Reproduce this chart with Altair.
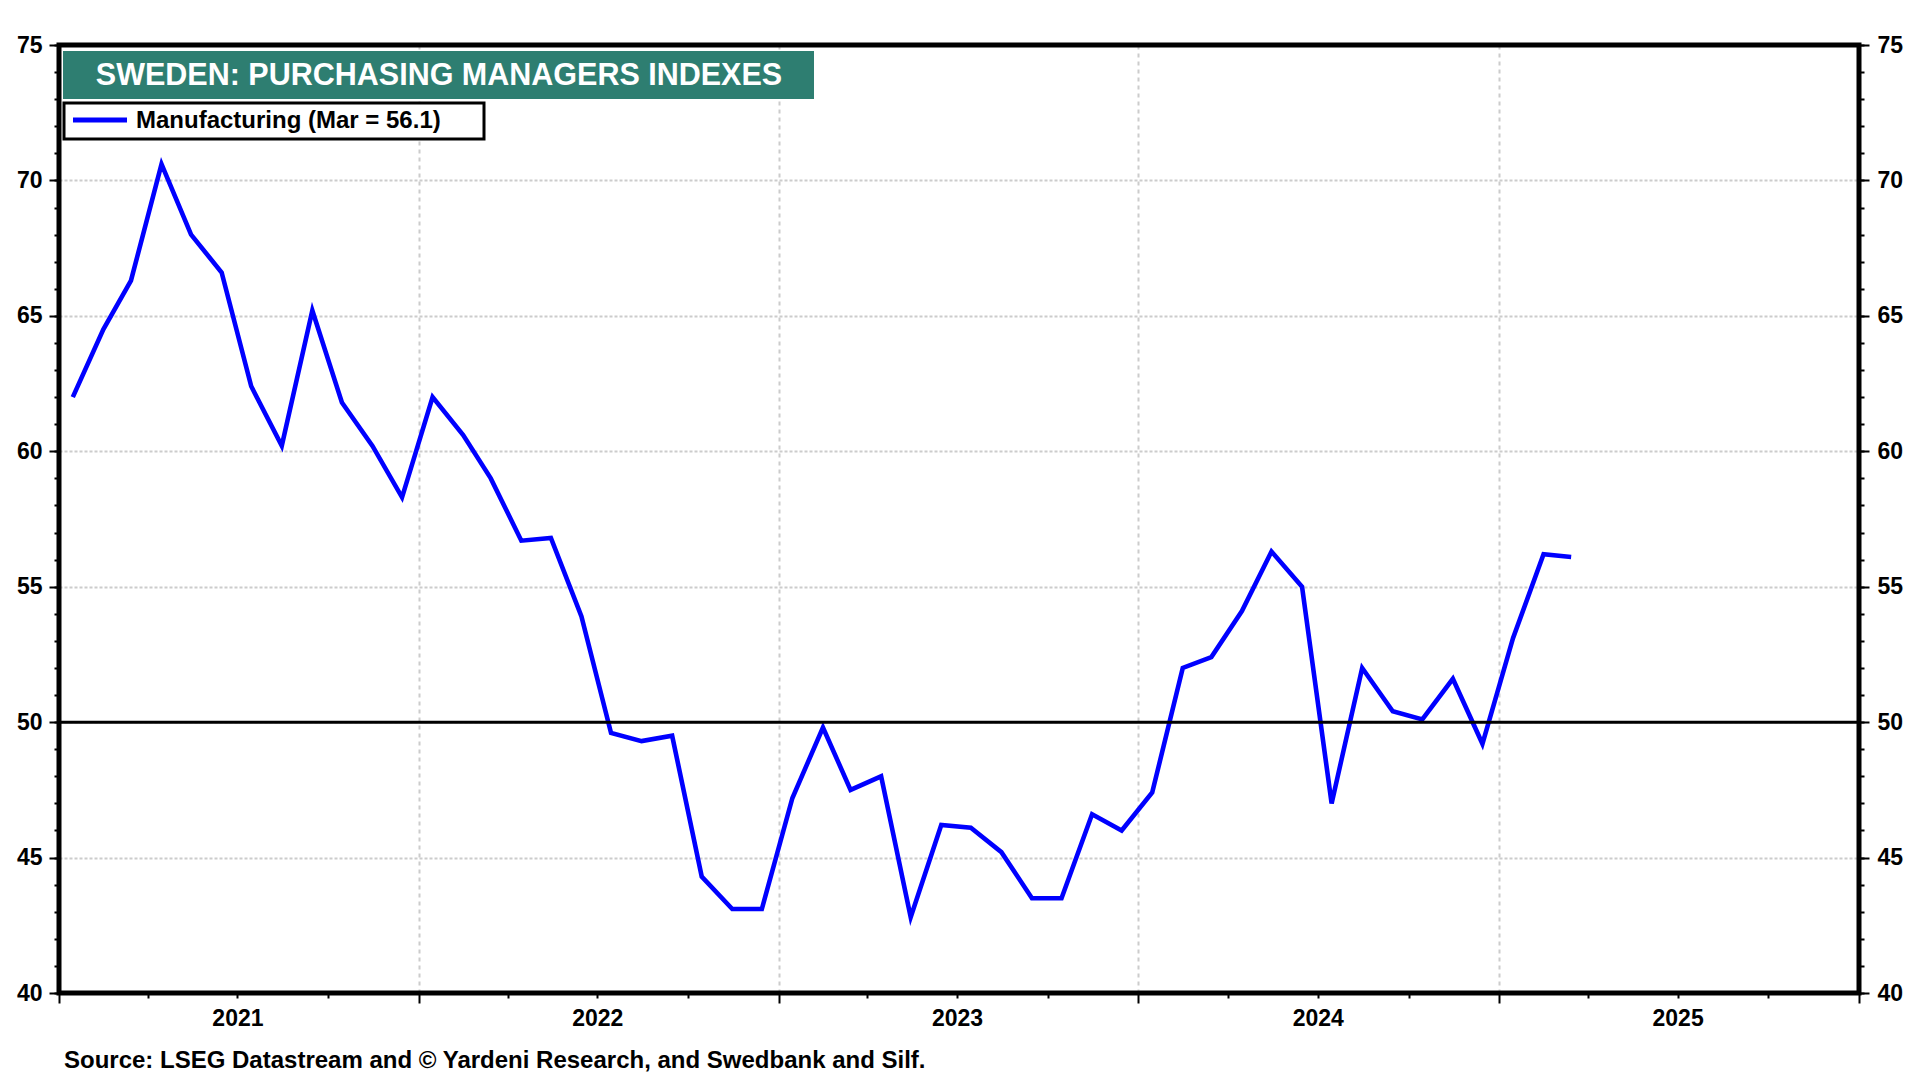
import altair as alt
import pandas as pd

# ---- data ----
start_year, start_month = 2021, 1
pmi = [
    62.0, 64.5, 66.3, 70.6, 68.0, 66.6, 62.4, 60.2, 65.2, 61.8, 60.2, 58.3,
    62.0, 60.6, 59.0, 56.7, 56.8, 53.9, 49.6, 49.3, 49.5, 44.3, 43.1, 43.1,
    47.2, 49.8, 47.5, 48.0, 42.8, 46.2, 46.1, 45.2, 43.5, 43.5, 46.6, 46.0,
    47.4, 52.0, 52.4, 54.1, 56.3, 55.0, 47.0, 52.0, 50.4, 50.1, 51.6, 49.2,
    53.1, 56.2, 56.1,
]
dates = []
for k in range(len(pmi)):
    y = start_year + (start_month - 1 + k) // 12
    m = (start_month - 1 + k) % 12 + 1
    dates.append(f"{y}-{m:02d}-15")

series_name = "Manufacturing"
last_month = "Mar"
title_text = "SWEDEN: PURCHASING MANAGERS INDEXES"
source_text = "Source: LSEG Datastream and \u00a9 Yardeni Research, and Swedbank and Silf."
threshold = [50]
years = [2021, 2022, 2023, 2024, 2025, 2026]
y_major = [40, 45, 50, 55, 60, 65, 70, 75]
y_minor = list(range(40, 76))

df = pd.DataFrame({"date": dates, "pmi": pmi})
df_thr = pd.DataFrame({"level": threshold})
one = pd.DataFrame({"k": [0]})

# ---- style ----
W, H = 1800, 948
FONT = "Liberation Sans, Arial, Helvetica, sans-serif"
BLUE = "#0000ff"
TEAL = "#2e7e71"
GRID = "#cccccc"


def dt(y, m):
    return alt.DateTime(year=y, month=m, date=1, utc=True)


xscale = alt.Scale(type="utc", domain=[dt(years[0], 1), dt(years[-1], 1)])
yscale = alt.Scale(domain=[y_major[0], y_major[-1]], nice=False, zero=False)

year_bounds = [dt(y, 1) for y in years]
quarters = [dt(y, m) for y in years[:-1] for m in (4, 7, 10)]
label_pos = [dt(y, 7) for y in years[:-1]]

base = alt.Chart(df)

line = base.mark_line(color=BLUE, strokeWidth=4.6, strokeJoin="miter").encode(
    x=alt.X("date:T", scale=xscale, title=None,
            axis=alt.Axis(orient="bottom", values=label_pos, ticks=False, grid=False,
                          labelExpr="utcFormat(datum.value, '%Y')", labelPadding=14,
                          labelFontSize=23)),
    y=alt.Y("pmi:Q", scale=yscale, title=None,
            axis=alt.Axis(orient="left", values=y_major, tickSize=10, labelPadding=7,
                          grid=True, gridColor=GRID, gridDash=[3, 2], gridWidth=2,
                          labelFontSize=23)),
)

rule50 = alt.Chart(df_thr).mark_rule(color="black", strokeWidth=3).encode(
    y=alt.Y("level:Q", scale=yscale, title=None,
            axis=alt.Axis(orient="right", values=y_major, tickSize=10, labelPadding=8,
                          grid=False, labelFontSize=23)),
)

ghost_a = base.mark_point(opacity=0).encode(
    x=alt.X("date:T", scale=xscale, title=None,
            axis=alt.Axis(orient="bottom", values=year_bounds, tickSize=10, labels=False,
                          grid=True, gridColor=GRID, gridDash=[4, 4], gridWidth=2)),
    y=alt.Y("pmi:Q", scale=yscale, title=None,
            axis=alt.Axis(orient="left", values=y_minor, tickSize=5, labels=False, grid=False)),
)

ghost_b = base.mark_point(opacity=0).encode(
    x=alt.X("date:T", scale=xscale, title=None,
            axis=alt.Axis(orient="bottom", values=quarters, tickSize=5, labels=False, grid=False)),
    y=alt.Y("pmi:Q", scale=yscale, title=None,
            axis=alt.Axis(orient="right", values=y_minor, tickSize=5, labels=False, grid=False)),
)

title_box = alt.Chart(one).mark_rect(fill=TEAL).encode(
    x=alt.value(4), x2=alt.value(755), y=alt.value(6), y2=alt.value(54)
)
title_lbl = alt.Chart(one).mark_text(
    text=title_text, font=FONT, fontWeight="bold", fontSize=30.5, color="white",
    align="center", baseline="middle"
).encode(x=alt.value(380), y=alt.value(31))

legend_box = alt.Chart(one).mark_rect(fill="white", stroke="black", strokeWidth=3).encode(
    x=alt.value(5), x2=alt.value(425), y=alt.value(58), y2=alt.value(94)
)
legend_line = alt.Chart(one).mark_rule(color=BLUE, strokeWidth=5).encode(
    x=alt.value(14), x2=alt.value(68), y=alt.value(75)
)
legend_lbl = alt.Chart(one).mark_text(
    text=f"{series_name} ({last_month} = {pmi[-1]})", font=FONT, fontWeight="bold",
    fontSize=24, color="black", align="left", baseline="middle"
).encode(x=alt.value(77), y=alt.value(76))

source_lbl = alt.Chart(one).mark_text(
    text=source_text, font=FONT, fontWeight="bold", fontSize=24, color="black",
    align="left", baseline="middle"
).encode(x=alt.value(5), y=alt.value(1016))

frame = alt.Chart(one).mark_rect(filled=False, stroke="black", strokeWidth=5).encode(
    x=alt.value(0), x2=alt.value(W), y=alt.value(0), y2=alt.value(H)
)

chart = alt.layer(
    ghost_a, ghost_b, line, rule50, title_box, title_lbl,
    legend_box, legend_line, legend_lbl, source_lbl, frame
).resolve_axis(
    x="independent", y="independent"
).properties(
    width=W, height=H,
    padding={"left": 51, "top": 37, "right": 53, "bottom": 85},
    autosize=alt.AutoSizeParams(type="none"),
    background="white",
).configure_view(
    strokeWidth=0
).configure_axis(
    domain=False, tickColor="black", tickWidth=2, labelFont=FONT,
    labelFontWeight="bold", labelColor="black", labelFontSize=23,
)

chart.save("out.html", embed_options={"renderer": "svg", "actions": False})
